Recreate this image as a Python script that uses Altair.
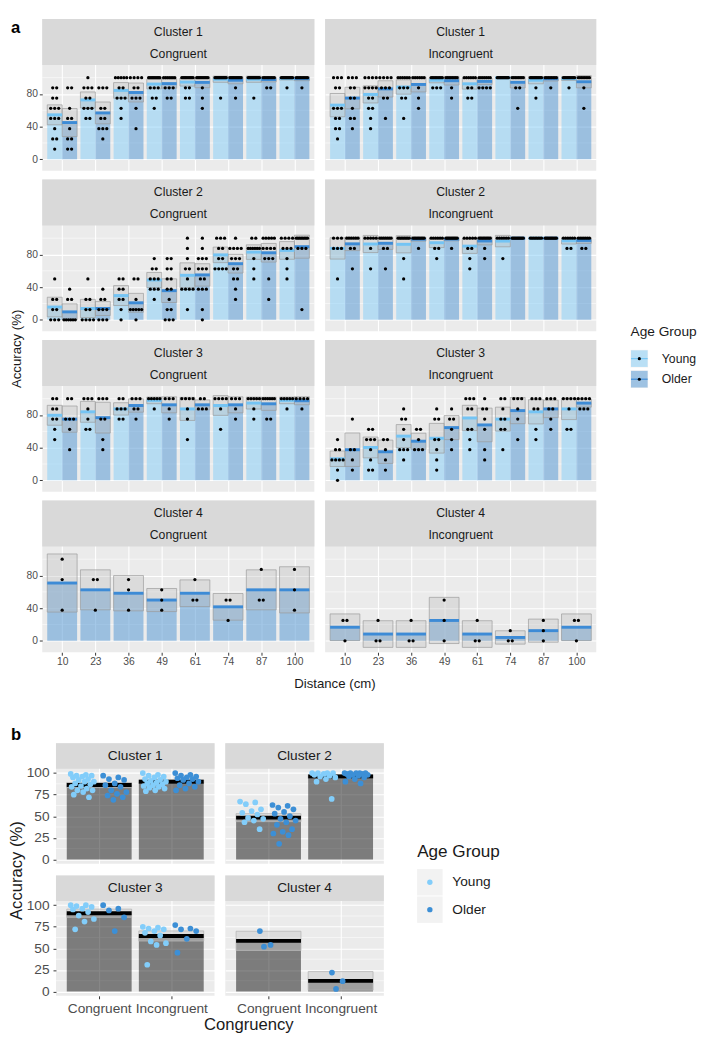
import altair as alt
import numpy as np
import pandas as pd

FONT = "Liberation Sans"

distances = ["10", "23", "36", "49", "61", "74", "87", "100"]
groups = ["Young", "Older"]
clusters = ["Cluster 1", "Cluster 2", "Cluster 3", "Cluster 4"]
congruency = ["Congruent", "Incongruent"]

# ---------------- panel a: dots per distance, as (accuracy %, number of dots) ----------------
c1_con_young = [
    [(87.5, 2), (75, 2), (62.5, 3), (50, 3), (37.5, 1), (25, 2), (12.5, 1)],
    [(100, 1), (87.5, 3), (75, 2), (62.5, 3), (50, 2)],
    [(100, 5), (87.5, 2), (75, 3), (62.5, 1), (50, 1)],
    [(100, 10), (87.5, 3), (75, 2), (62.5, 1)],
    [(100, 10), (87.5, 2), (75, 2)],
    [(100, 12), (75, 1)],
    [(100, 12), (75, 1)],
    [(100, 12), (87.5, 1)],
]
c1_con_older = [
    [(87.5, 2), (62.5, 1), (50, 2), (37.5, 1), (25, 2), (12.5, 2)],
    [(87.5, 3), (62.5, 2), (50, 2), (37.5, 3), (25, 1)],
    [(100, 4), (87.5, 2), (75, 3), (62.5, 1), (37.5, 1)],
    [(100, 7), (87.5, 3), (75, 2)],
    [(100, 10), (87.5, 1), (75, 1), (62.5, 1)],
    [(100, 10), (87.5, 1), (75, 1)],
    [(100, 9), (87.5, 2)],
    [(100, 9), (87.5, 1)],
]
c1_inc_young = [
    [(100, 3), (87.5, 2), (62.5, 3), (50, 2), (37.5, 2), (25, 1)],
    [(100, 4), (87.5, 4), (75, 2), (62.5, 2), (50, 1), (37.5, 1)],
    [(100, 6), (87.5, 3), (75, 2), (50, 1)],
    [(100, 9), (87.5, 3)],
    [(100, 6), (87.5, 2), (75, 2)],
    [(100, 12)],
    [(100, 10), (87.5, 1), (75, 1)],
    [(100, 10), (87.5, 1)],
]
c1_inc_older = [
    [(100, 3), (87.5, 2), (75, 2), (62.5, 1), (50, 2), (37.5, 1)],
    [(100, 4), (87.5, 3), (75, 2), (50, 1)],
    [(100, 6), (87.5, 1), (75, 1), (62.5, 1)],
    [(100, 8), (87.5, 1), (75, 1)],
    [(100, 7), (87.5, 4)],
    [(100, 8), (87.5, 2), (62.5, 1)],
    [(100, 8), (87.5, 1)],
    [(100, 8), (87.5, 1), (62.5, 1)],
]
c2_con_young = [
    [(50, 1), (25, 2), (12.5, 2), (0, 3)],
    [(50, 1), (25, 2), (12.5, 2), (0, 4)],
    [(50, 2), (37.5, 2), (25, 2), (12.5, 1), (0, 1)],
    [(75, 1), (62.5, 2), (50, 3), (37.5, 3), (25, 1)],
    [(100, 1), (87.5, 1), (75, 1), (62.5, 2), (50, 1), (37.5, 4), (12.5, 1)],
    [(100, 3), (87.5, 2), (75, 2), (62.5, 4)],
    [(100, 2), (87.5, 6), (75, 1), (62.5, 1), (50, 1)],
    [(100, 4), (87.5, 3), (75, 1), (62.5, 1), (50, 1)],
]
c2_con_older = [
    [(37.5, 1), (25, 2), (0, 6)],
    [(37.5, 1), (25, 2), (12.5, 3), (0, 3)],
    [(50, 2), (25, 1), (12.5, 5), (0, 1)],
    [(75, 2), (62.5, 2), (50, 2), (37.5, 2), (25, 1), (12.5, 2), (0, 3)],
    [(100, 1), (87.5, 1), (75, 3), (62.5, 3), (50, 2), (37.5, 3), (12.5, 1), (0, 1)],
    [(100, 1), (87.5, 4), (75, 3), (62.5, 2), (50, 2), (37.5, 1), (25, 1)],
    [(100, 5), (87.5, 4), (75, 3), (50, 1), (25, 1)],
    [(100, 8), (87.5, 3), (12.5, 1)],
]
c2_inc_young = [
    [(100, 3), (87.5, 3), (50, 1)],
    [(100, 5), (87.5, 1), (62.5, 1)],
    [(100, 8), (75, 1), (50, 1)],
    [(100, 6), (87.5, 2), (75, 1)],
    [(100, 5), (87.5, 2), (75, 1), (62.5, 1)],
    [(100, 6), (75, 1)],
    [(100, 8)],
    [(100, 6), (87.5, 2)],
]
c2_inc_older = [
    [(100, 6), (87.5, 2), (62.5, 1)],
    [(100, 7), (87.5, 2), (62.5, 1)],
    [(100, 9), (87.5, 1)],
    [(100, 10), (87.5, 1)],
    [(100, 9), (87.5, 1), (75, 1)],
    [(100, 10)],
    [(100, 10)],
    [(100, 7), (87.5, 2)],
]
c3_con_young = [
    [(100, 2), (87.5, 2), (75, 2), (62.5, 1), (50, 1)],
    [(100, 3), (87.5, 1), (75, 1), (62.5, 2)],
    [(100, 2), (87.5, 3), (75, 2)],
    [(100, 5), (87.5, 1)],
    [(100, 4), (87.5, 1), (75, 1), (50, 1)],
    [(100, 4), (87.5, 1), (62.5, 1)],
    [(100, 5), (87.5, 1), (75, 1)],
    [(100, 5), (87.5, 1)],
]
c3_con_older = [
    [(100, 2), (75, 3), (62.5, 1), (37.5, 1)],
    [(100, 3), (75, 2), (50, 1), (37.5, 1)],
    [(100, 3), (87.5, 2), (75, 1)],
    [(100, 3), (87.5, 1), (75, 1)],
    [(100, 2), (87.5, 3)],
    [(100, 3), (87.5, 1), (75, 1)],
    [(100, 6), (75, 2)],
    [(100, 4), (87.5, 1)],
]
c3_inc_young = [
    [(50, 1), (37.5, 2), (25, 4), (12.5, 1), (0, 1)],
    [(62.5, 2), (50, 3), (37.5, 1), (25, 1), (12.5, 2)],
    [(87.5, 1), (75, 2), (62.5, 1), (50, 1), (37.5, 3), (25, 1)],
    [(87.5, 1), (75, 2), (50, 2), (37.5, 1), (25, 1), (12.5, 1)],
    [(100, 3), (87.5, 2), (62.5, 2), (50, 1), (37.5, 1)],
    [(100, 2), (87.5, 1), (75, 2), (62.5, 2), (37.5, 1)],
    [(100, 3), (87.5, 2), (62.5, 1), (50, 1)],
    [(100, 4), (87.5, 1), (62.5, 2)],
]
c3_inc_older = [
    [(75, 1), (37.5, 2), (25, 1), (12.5, 1)],
    [(50, 2), (37.5, 1), (25, 1), (12.5, 1)],
    [(62.5, 2), (50, 1), (37.5, 3)],
    [(87.5, 1), (75, 2), (62.5, 1), (50, 1), (37.5, 1)],
    [(100, 1), (87.5, 2), (75, 1), (62.5, 1), (37.5, 1), (25, 1)],
    [(100, 3), (87.5, 1), (75, 1), (50, 1)],
    [(100, 3), (87.5, 2), (75, 1), (62.5, 1)],
    [(100, 4), (87.5, 3)],
]
c4_con_older = [
    [(100, 1), (75, 1), (37.5, 1)],
    [(75, 2), (37.5, 1)],
    [(75, 1), (62.5, 1), (37.5, 1)],
    [(62.5, 1), (50, 1), (37.5, 1)],
    [(75, 1), (50, 2)],
    [(50, 2), (25, 1)],
    [(87.5, 1), (50, 2)],
    [(87.5, 1), (62.5, 1), (37.5, 1)],
]
c4_inc_older = [
    [(25, 2), (0, 1)],
    [(25, 1), (0, 2)],
    [(25, 1), (0, 2)],
    [(50, 1), (25, 1), (0, 1)],
    [(25, 1), (0, 2)],
    [(12.5, 1), (0, 2)],
    [(25, 1), (12.5, 1), (0, 1)],
    [(25, 2), (0, 1)],
]

a_cells = {
    ("Cluster 1", "Congruent"): {"Young": c1_con_young, "Older": c1_con_older},
    ("Cluster 1", "Incongruent"): {"Young": c1_inc_young, "Older": c1_inc_older},
    ("Cluster 2", "Congruent"): {"Young": c2_con_young, "Older": c2_con_older},
    ("Cluster 2", "Incongruent"): {"Young": c2_inc_young, "Older": c2_inc_older},
    ("Cluster 3", "Congruent"): {"Young": c3_con_young, "Older": c3_con_older},
    ("Cluster 3", "Incongruent"): {"Young": c3_inc_young, "Older": c3_inc_older},
    ("Cluster 4", "Congruent"): {"Older": c4_con_older},
    ("Cluster 4", "Incongruent"): {"Older": c4_inc_older},
}

# ---------------- panel b: participant means (%) ----------------
b_c1_con_young = [99, 98, 97, 97, 96, 95, 93, 92, 90, 90, 88, 87, 85, 84, 82, 80, 80, 78, 75, 72]
b_c1_con_older = [97, 95, 93, 92, 88, 86, 84, 80, 78, 76, 74, 72, 69]
b_c1_inc_young = [100, 98, 97, 96, 95, 93, 92, 91, 90, 89, 88, 87, 86, 85, 84, 83, 82, 80, 79]
b_c1_inc_older = [100, 98, 97, 96, 95, 94, 93, 92, 90, 88, 86, 84, 82, 80]
b_c2_con_young = [67, 66, 64, 58, 56, 54, 52, 48, 47, 45, 43, 35]
b_c2_con_older = [63, 62, 60, 58, 55, 53, 50, 47, 45, 43, 40, 35, 32, 30, 28, 18]
b_c2_inc_young = [100, 100, 100, 100, 99, 98, 97, 96, 95, 93, 90, 70]
b_c2_inc_older = [100, 100, 100, 100, 100, 99, 99, 98, 98, 97, 96, 95, 93, 90, 88]
b_c3_con_young = [100, 100, 99, 98, 96, 95, 92, 88, 84, 81, 72]
b_c3_con_older = [100, 96, 94, 86, 70]
b_c3_inc_young = [75, 74, 73, 72, 70, 68, 65, 58, 56, 54, 31]
b_c3_inc_older = [77, 73, 72, 70, 61, 45]
b_c4_con_older = [70, 54, 52]
b_c4_inc_older = [22, 12, 3]

b_cells = {
    "Cluster 1": {"Congruent": {"Young": b_c1_con_young, "Older": b_c1_con_older},
                  "Incongruent": {"Young": b_c1_inc_young, "Older": b_c1_inc_older}},
    "Cluster 2": {"Congruent": {"Young": b_c2_con_young, "Older": b_c2_con_older},
                  "Incongruent": {"Young": b_c2_inc_young, "Older": b_c2_inc_older}},
    "Cluster 3": {"Congruent": {"Young": b_c3_con_young, "Older": b_c3_con_older},
                  "Incongruent": {"Young": b_c3_inc_young, "Older": b_c3_inc_older}},
    "Cluster 4": {"Congruent": {"Older": b_c4_con_older},
                  "Incongruent": {"Older": b_c4_inc_older}},
}

# ---------------- styles ----------------
A_BAR = ["#8ACFF7", "#5A9BD5"]
A_LINE = ["#74C4F4", "#3D8BD6"]
B_PT = ["#82CDFA", "#3C8FD6"]
AX_LABEL = "#4D4D4D"
TITLE_C = "#1A1A1A"

A_WL, A_WR, A_H, A_SH = 278, 277, 155, 47
A_YDOM = [-14, 115.5]
A_YTICKS = [0, 40, 80]
A_YMINOR = [20, 60, 100]
B_W, B_H, B_SH = 162, 123, 26
B_YDOM = [-5, 105]
B_YTICKS = [0, 25, 50, 75, 100]
B_YMINOR = [12.5, 37.5, 62.5, 87.5]


def ext_domain(dom, h, sh):
    # extend the data domain upward so the strip band sits above the plotting region
    per_px = (dom[1] - dom[0]) / (h - sh)
    return [dom[0], dom[1] + sh * per_px]


def expand(pairs):
    vals = []
    for v, c in pairs:
        vals.extend([v] * c)
    return np.array(vals, dtype=float)


def summarize(vals):
    vals = np.asarray(vals, dtype=float)
    m = vals.mean()
    se = vals.std(ddof=1) / np.sqrt(len(vals)) if len(vals) > 1 else 0.0
    return m, m - 1.96 * se, m + 1.96 * se


def make_axis(values, show, label_expr=None, size=10.5, pad=2):
    kw = dict(values=values, grid=True, gridColor="white", gridWidth=1.1, domain=False,
              labels=show, ticks=show, tickColor="#333333", tickSize=3, tickWidth=1,
              labelColor=AX_LABEL, labelFont=FONT, labelFontSize=size, labelPadding=pad,
              labelFlush=False, labelOverlap=False, title=None)
    if label_expr:
        kw["labelExpr"] = label_expr
    return alt.Axis(**kw)


def expr_list(items):
    return "[" + ",".join("'%s'" % s for s in items) + "][datum.value]"


def txt(s, x, y, size, **kw):
    return alt.Chart(pd.DataFrame({"t": [s]})).mark_text(
        font=FONT, fontSize=size, **kw).encode(text="t:N", x=alt.value(x), y=alt.value(y))


def frames_a(cell):
    present = [g for g in groups if g in cell]
    rows, dots = [], []
    for g in present:
        for i, pairs in enumerate(cell[g]):
            if len(present) == 1:
                c, hw = float(i), 0.45
            else:
                c = i - 0.225 if g == "Young" else i + 0.225
                hw = 0.225
            m, lo, hi = summarize(expand(pairs))
            rows.append({"group": g, "x0": c - hw, "x1": c + hw, "mean": m, "lo": lo, "hi": hi})
            for v, cnt in pairs:
                step = 0.12 if cnt < 2 else min(0.12, 0.34 / (cnt - 1))
                for j in range(cnt):
                    dots.append({"x": c + (j - (cnt - 1) / 2) * step, "v": v})
    return pd.DataFrame(rows), pd.DataFrame(dots)


def panel_a(cl, cg, width, show_y, show_x):
    summ, dots = frames_a(a_cells[(cl, cg)])
    xs = alt.Scale(domain=[-0.6, 7.6], nice=False, zero=False)
    ys = alt.Scale(domain=ext_domain(A_YDOM, A_H, A_SH), nice=False, zero=False)
    xax = make_axis(list(range(len(distances))), show_x, expr_list(distances))
    yax = make_axis(A_YTICKS, show_y)

    def X(f):
        return alt.X(f, type="quantitative", scale=xs, axis=xax)

    def Y(f):
        return alt.Y(f, type="quantitative", scale=ys, axis=yax)

    minor = alt.Chart(pd.DataFrame({"v": A_YMINOR})).mark_rule(
        color="white", strokeWidth=0.55).encode(y=Y("v"))
    bars = alt.Chart(summ).mark_rect(fillOpacity=0.55).encode(
        x=X("x0"), x2="x1", y=Y("mean"), y2=alt.datum(0),
        fill=alt.Fill("group:N", scale=alt.Scale(domain=groups, range=A_BAR), legend=None))
    ci = alt.Chart(summ).mark_rect(fill="#BEBEBE", fillOpacity=0.35, stroke="#9A9A9A",
                                   strokeOpacity=0.85, strokeWidth=0.8).encode(
        x=X("x0"), x2="x1", y=Y("lo"), y2="hi")
    mean = alt.Chart(summ).mark_rule(strokeWidth=3).encode(
        x=X("x0"), x2="x1", y=Y("mean"),
        stroke=alt.Stroke("group:N", scale=alt.Scale(domain=groups, range=A_LINE), legend=None))
    pts = alt.Chart(dots).mark_circle(size=11, color="black", opacity=1).encode(x=X("x"), y=Y("v"))
    strip = alt.Chart(pd.DataFrame({"t": [cl]})).mark_rect(color="#D9D9D9").encode(
        x=alt.value(0), x2=alt.value(width), y=alt.value(0), y2=alt.value(A_SH))
    t1 = txt(cl, width / 2, 13, 12.5, color=TITLE_C, baseline="middle")
    t2 = txt(cg, width / 2, 35.5, 12.5, color=TITLE_C, baseline="middle")
    return alt.layer(minor, bars, ci, mean, pts, strip, t1, t2).properties(
        width=width, height=A_H, view=alt.ViewBackground(fill="#EBEBEB", strokeWidth=0))


def panel_b(cl, show_y, show_x):
    cells = b_cells[cl]
    rows, pts = [], []
    for i, cg in enumerate(congruency):
        cell = cells[cg]
        allv = []
        present = [g for g in groups if g in cell]
        for g in present:
            vals = cell[g]
            allv.extend(vals)
            if len(present) == 1:
                c, jw = float(i), 0.12
            else:
                c = i - 0.225 if g == "Young" else i + 0.225
                jw = 0.17
            for j, v in enumerate(vals):
                off = ((j * 0.618034) % 1.0 - 0.5) * 2 * jw
                pts.append({"group": g, "x": c + off, "v": v})
        m, lo, hi = summarize(allv)
        rows.append({"x0": i - 0.45, "x1": i + 0.45, "mean": m, "lo": lo, "hi": hi})
    summ = pd.DataFrame(rows)
    pdf = pd.DataFrame(pts)
    xs = alt.Scale(domain=[-0.6, 1.6], nice=False, zero=False)
    ys = alt.Scale(domain=ext_domain(B_YDOM, B_H, B_SH), nice=False, zero=False)
    xax = make_axis([0, 1], show_x, expr_list(congruency), size=14, pad=3)
    yax = make_axis(B_YTICKS, show_y, size=14, pad=4)

    def X(f):
        return alt.X(f, type="quantitative", scale=xs, axis=xax)

    def Y(f):
        return alt.Y(f, type="quantitative", scale=ys, axis=yax)

    minor = alt.Chart(pd.DataFrame({"v": B_YMINOR})).mark_rule(
        color="white", strokeWidth=0.55).encode(y=Y("v"))
    bars = alt.Chart(summ).mark_rect(fill="black", fillOpacity=0.47).encode(
        x=X("x0"), x2="x1", y=Y("mean"), y2=alt.datum(0))
    ci = alt.Chart(summ).mark_rect(fill="#C8C8C8", fillOpacity=0.46, stroke="#B5B5B5",
                                   strokeWidth=0.8).encode(x=X("x0"), x2="x1", y=Y("lo"), y2="hi")
    mean = alt.Chart(summ).mark_rule(strokeWidth=4, color="black").encode(
        x=X("x0"), x2="x1", y=Y("mean"))
    dots = alt.Chart(pdf).mark_circle(size=34, opacity=1).encode(
        x=X("x"), y=Y("v"),
        fill=alt.Fill("group:N", scale=alt.Scale(domain=groups, range=B_PT), legend=None))
    strip = alt.Chart(pd.DataFrame({"t": [cl]})).mark_rect(color="#D9D9D9").encode(
        x=alt.value(0), x2=alt.value(B_W), y=alt.value(0), y2=alt.value(B_SH))
    t1 = txt(cl, B_W / 2, B_SH / 2, 14, color=TITLE_C, baseline="middle")
    return alt.layer(minor, bars, ci, mean, dots, strip, t1).properties(
        width=B_W, height=B_H, view=alt.ViewBackground(fill="#EBEBEB", strokeWidth=0))


def indep(ch):
    return ch.resolve_scale(x="independent", y="independent", fill="independent",
                            stroke="independent", color="independent")


def blank(width, height, layers):
    return alt.layer(*layers).properties(width=width, height=height,
                                         view=alt.ViewBackground(strokeWidth=0))


# ---------------- panel a assembly ----------------
rowsA = []
for r, cl in enumerate(clusters):
    left = panel_a(cl, "Congruent", A_WL, True, r == 3)
    right = panel_a(cl, "Incongruent", A_WR, False, r == 3)
    rowsA.append(indep(alt.hconcat(left, right, spacing=9)))
gridA_rows = indep(alt.vconcat(*rowsA, spacing=9))
GA_H = 4 * A_H + 3 * 9
xtitleA = blank(580, 16, [txt("Distance (cm)", 299, 8, 13.5, color=TITLE_C, baseline="middle")])
gridA = indep(alt.vconcat(gridA_rows, xtitleA, spacing=8))

ytitleA = blank(17, GA_H, [
    txt("a", 2, 1, 17, fontWeight="bold", align="left", baseline="top", color="black"),
    txt("Accuracy (%)", 8, 337, 13.5, angle=270, align="center", baseline="middle", color=TITLE_C),
])

legA_layers = [txt("Age Group", 21, 320, 14, align="left", baseline="middle", color=TITLE_C)]
for k, g in enumerate(groups):
    yk = [347, 368][k]
    d = pd.DataFrame({"t": [g]})
    legA_layers.append(alt.Chart(d).mark_rect(color="#F2F2F2").encode(
        x=alt.value(21), x2=alt.value(39), y=alt.value(yk - 9), y2=alt.value(yk + 9)))
    legA_layers.append(alt.Chart(d).mark_rect(fill=A_BAR[k], fillOpacity=0.55).encode(
        x=alt.value(21.5), x2=alt.value(38.5), y=alt.value(yk - 8.5), y2=alt.value(yk + 8.5)))
    legA_layers.append(alt.Chart(d).mark_rect(fill=A_LINE[k]).encode(
        x=alt.value(21.5), x2=alt.value(38.5), y=alt.value(yk - 0.6), y2=alt.value(yk + 0.6)))
    legA_layers.append(alt.Chart(d).mark_circle(size=10, color="black", opacity=1).encode(
        x=alt.value(30), y=alt.value(yk)))
    legA_layers.append(txt(g, 53, yk, 12.5, align="left", baseline="middle", color=TITLE_C))
legendA = blank(92, GA_H, legA_layers)

blockA = indep(alt.hconcat(ytitleA, gridA, legendA, spacing=0))

# ---------------- panel b assembly ----------------
rowsB = []
for r in range(2):
    l = panel_b(clusters[2 * r], True, r == 1)
    rr = panel_b(clusters[2 * r + 1], False, r == 1)
    rowsB.append(indep(alt.hconcat(l, rr, spacing=9)))
gridB_rows = indep(alt.vconcat(*rowsB, spacing=9))
GB_H = 2 * B_H + 9
xtitleB = blank(363, 18, [txt("Congruency", 197, 9, 17, color=TITLE_C, baseline="middle")])
gridB = indep(alt.vconcat(gridB_rows, xtitleB, spacing=1))

ytitleB = blank(17, GB_H, [
    txt("Accuracy (%)", 8.5, 130, 17, angle=270, align="center", baseline="middle", color=TITLE_C),
])

legB_layers = [txt("Age Group", 6, 111, 17.5, align="left", baseline="middle", color=TITLE_C)]
for k, g in enumerate(groups):
    yk = [142, 170][k]
    d = pd.DataFrame({"t": [g]})
    legB_layers.append(alt.Chart(d).mark_rect(color="#F2F2F2").encode(
        x=alt.value(6), x2=alt.value(32), y=alt.value(yk - 13.5), y2=alt.value(yk + 13.5)))
    legB_layers.append(alt.Chart(d).mark_circle(size=30, color=B_PT[k], opacity=1).encode(
        x=alt.value(19), y=alt.value(yk)))
    legB_layers.append(txt(g, 42, yk, 14, align="left", baseline="middle", color=TITLE_C))
legendB = blank(100, GB_H, legB_layers)

blockB = indep(alt.hconcat(ytitleB, gridB, legendB, spacing=0))

bLabel = blank(17, 17, [txt("b", 2, 1, 17, fontWeight="bold", align="left", baseline="top", color="black")])

chart = indep(alt.vconcat(blockA, indep(alt.vconcat(bLabel, blockB, spacing=0)), spacing=36))
chart = chart.properties(padding=0).configure(font=FONT, background="white").configure_view(strokeWidth=0)

chart.save("out.html", embed_options={"renderer": "svg", "actions": False})
